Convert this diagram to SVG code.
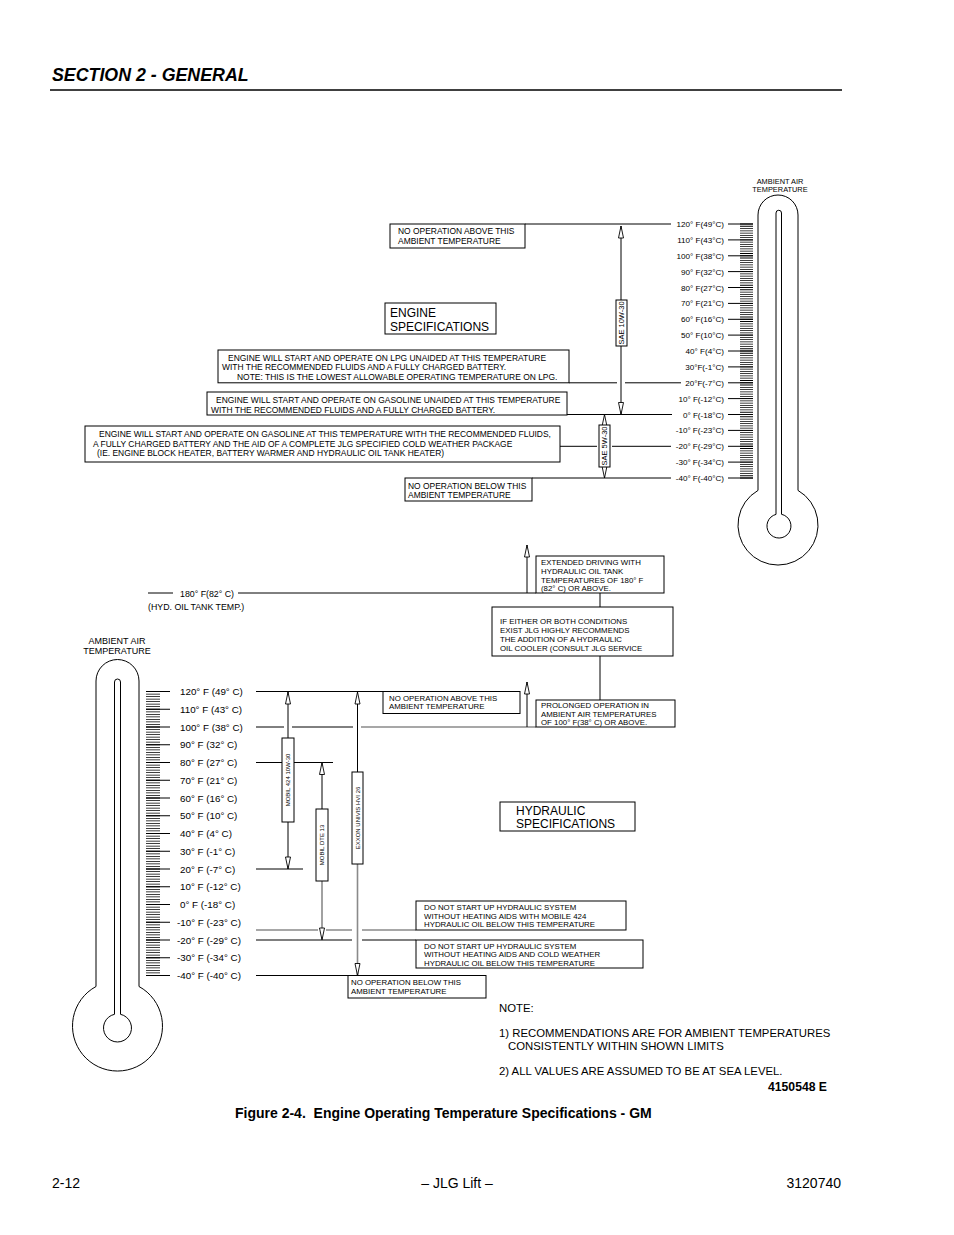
<svg xmlns="http://www.w3.org/2000/svg" width="954" height="1235" viewBox="0 0 954 1235">
<style>
text{font-family:"Liberation Sans",Arial,Helvetica,sans-serif;fill:#000}
.hd{font-size:17.8px;font-weight:bold;font-style:italic}
.ft{font-size:14px}
.cap{font-size:14px;font-weight:bold}
.t8{font-size:8.45px}
.t7{font-size:7.85px}
.lt{font-size:8.1px}
.lb{font-size:9.8px}
.am{font-size:7.4px}
.am2{font-size:9px}
.sp{font-size:12px}
.nt{font-size:11.35px}
.ot{font-size:8.8px}
.rt{font-size:7.5px}
.rb{font-size:6px}
.bx{fill:#fff;stroke:#000;stroke-width:1}
.ln{stroke:#000;stroke-width:1;fill:none}
.gr{stroke:#8a8a8a;stroke-width:1.6;fill:none}
.th{fill:none;stroke:#000;stroke-width:1}
</style>
<defs>
<marker id="ah" viewBox="-1 -1 14 8" refX="12" refY="3" markerWidth="14" markerHeight="8" markerUnits="userSpaceOnUse" orient="auto">
<path d="M0,0.5 L12,3 L0,5.5 Z" fill="#fff" stroke="#000" stroke-width="0.9"/>
</marker>
</defs>

<g id="header">
<text class="hd" x="52" y="81">SECTION 2 - GENERAL</text>
<line x1="50" y1="90" x2="842" y2="90" stroke="#000" stroke-width="1.3"/>
</g>

<!-- Engine thermometer -->
<g id="engine-thermometer">
<text class="am" x="780" y="184" text-anchor="middle">AMBIENT AIR</text>
<text class="am" x="780" y="192" text-anchor="middle">TEMPERATURE</text>
<path class="th" d="M758,490.4 V215 A20,20 0 0 1 798,215 V490.4 A40,40 0 1 1 758,490.4 Z"/>
<path class="th" d="M776,514.4 V213 A2.75,2.75 0 0 1 781.5,213 V514.3 A12,12 0 1 1 776,514.4 Z"/>
<line x1="746.5" y1="223.6" x2="746.5" y2="478.4" stroke="#000" stroke-width="13" stroke-dasharray="0.8 1.4679"/>
<path class="ln" d="M728,224H753M728,239.9H753M728,255.8H753M728,271.6H753M728,287.5H753M728,303.4H753M728,319.3H753M728,335.1H753M728,351H753M728,366.9H753M728,382.8H753M728,398.6H753M728,414.5H753M728,430.4H753M728,446.3H753M728,462.1H753M728,478H753"/>
<g class="lt" text-anchor="end">
<text x="724" y="227">120° F(49°C)</text>
<text x="724" y="242.9">110° F(43°C)</text>
<text x="724" y="258.8">100° F(38°C)</text>
<text x="724" y="274.6">90° F(32°C)</text>
<text x="724" y="290.5">80° F(27°C)</text>
<text x="724" y="306.4">70° F(21°C)</text>
<text x="724" y="322.3">60° F(16°C)</text>
<text x="724" y="338.1">50° F(10°C)</text>
<text x="724" y="354">40° F(4°C)</text>
<text x="724" y="369.9">30°F(-1°C)</text>
<text x="724" y="385.8">20°F(-7°C)</text>
<text x="724" y="401.6">10° F(-12°C)</text>
<text x="724" y="417.5">0° F(-18°C)</text>
<text x="724" y="433.4">-10° F(-23°C)</text>
<text x="724" y="449.3">-20° F(-29°C)</text>
<text x="724" y="465.1">-30° F(-34°C)</text>
<text x="724" y="481">-40° F(-40°C)</text>
</g>
</g>

<!-- Engine connectors -->
<g id="engine-connectors">
<path class="ln" d="M525,224H671M569,382.8H617M625,382.8H681M567,414.5H672M560,446.3H597M612,446.3H671M532,478H671"/>
<line class="ln" x1="621" y1="300" x2="621" y2="226" marker-end="url(#ah)"/>
<line class="ln" x1="621" y1="346" x2="621" y2="414.5" marker-end="url(#ah)"/>
<line class="ln" x1="604.5" y1="425" x2="604.5" y2="414.5" marker-end="url(#ah)"/>
<line class="ln" x1="604.5" y1="467" x2="604.5" y2="478" marker-end="url(#ah)"/>
</g>

<g id="sae-10w30">
<rect class="bx" x="616" y="300" width="11" height="46"/>
<text class="rt" transform="translate(624.3,323) rotate(-90)" text-anchor="middle">SAE 10W-30</text>
</g>
<g id="sae-5w30">
<rect class="bx" x="599" y="425" width="11" height="42"/>
<text class="rt" transform="translate(607.3,446) rotate(-90)" text-anchor="middle">SAE 5W-30</text>
</g>

<g id="no-op-above-engine">
<rect class="bx" x="390" y="224" width="135" height="24"/>
<text class="t8" x="398" y="234">NO OPERATION ABOVE THIS</text>
<text class="t8" x="398" y="243.5">AMBIENT TEMPERATURE</text>
</g>

<g id="engine-specs">
<rect class="bx" x="385" y="303" width="111" height="31"/>
<text class="sp" x="390" y="317">ENGINE</text>
<text class="sp" x="390" y="331">SPECIFICATIONS</text>
</g>

<g id="lpg-box">
<rect class="bx" x="218" y="350" width="351" height="32.8"/>
<text class="t8" x="228" y="361">ENGINE WILL START AND OPERATE ON LPG UNAIDED AT THIS TEMPERATURE</text>
<text class="t8" x="222" y="370">WITH THE RECOMMENDED FLUIDS AND A FULLY CHARGED BATTERY.</text>
<text class="t8" x="237" y="380">NOTE: THIS IS THE LOWEST ALLOWABLE OPERATING TEMPERATURE ON LPG.</text>
</g>

<g id="gasoline-box">
<rect class="bx" x="207" y="392" width="360" height="23"/>
<text class="t8" x="216" y="403">ENGINE WILL START AND OPERATE ON GASOLINE UNAIDED AT THIS TEMPERATURE</text>
<text class="t8" x="211" y="412.5">WITH THE RECOMMENDED FLUIDS AND A FULLY CHARGED BATTERY.</text>
</g>

<g id="cold-weather-box">
<rect class="bx" x="85" y="426" width="475" height="36"/>
<text class="t8" x="99" y="437">ENGINE WILL START AND OPERATE ON GASOLINE AT THIS TEMPERATURE WITH THE RECOMMENDED FLUIDS,</text>
<text class="t8" x="93" y="447">A FULLY CHARGED BATTERY AND THE AID OF A COMPLETE JLG SPECIFIED COLD WEATHER PACKAGE</text>
<text class="t8" x="97" y="456">(IE. ENGINE BLOCK HEATER, BATTERY WARMER AND HYDRAULIC OIL TANK HEATER)</text>
</g>

<g id="no-op-below-engine">
<rect class="bx" x="405" y="478" width="127" height="23"/>
<text class="t8" x="408" y="489">NO OPERATION BELOW THIS</text>
<text class="t8" x="408" y="498">AMBIENT TEMPERATURE</text>
</g>

<!-- Hydraulic thermometer -->
<g id="hydraulic-thermometer">
<text class="am2" x="117" y="644" text-anchor="middle">AMBIENT AIR</text>
<text class="am2" x="117" y="654" text-anchor="middle">TEMPERATURE</text>
<path class="th" d="M96,986.5 V681 A21.5,21.5 0 0 1 139,681 V986.5 A45,45 0 1 1 96,986.5 Z"/>
<path class="th" d="M114.5,1014.3 V682 A3,3 0 0 1 120.5,682 V1014.3 A14,14 0 1 1 114.5,1014.3 Z"/>
<line x1="153" y1="691.1" x2="153" y2="975.9" stroke="#000" stroke-width="14" stroke-dasharray="0.8 1.7357"/>
<path class="ln" d="M146,691.5H170M146,709.25H170M146,727H170M146,744.75H170M146,762.5H170M146,780.25H170M146,798H170M146,815.75H170M146,833.5H170M146,851.25H170M146,869H170M146,886.75H170M146,904.5H170M146,922.25H170M146,940H170M146,957.75H170M146,975.5H170"/>
<g class="lb">
<text x="180" y="695">120° F (49° C)</text>
<text x="180" y="712.8">110° F (43° C)</text>
<text x="180" y="730.5">100° F (38° C)</text>
<text x="180" y="748.3">90° F (32° C)</text>
<text x="180" y="766">80° F (27° C)</text>
<text x="180" y="783.8">70° F (21° C)</text>
<text x="180" y="801.5">60° F (16° C)</text>
<text x="180" y="819.3">50° F (10° C)</text>
<text x="180" y="837">40° F (4° C)</text>
<text x="180" y="854.8">30° F (-1° C)</text>
<text x="180" y="872.5">20° F (-7° C)</text>
<text x="180" y="890.3">10° F (-12° C)</text>
<text x="180" y="908">0° F (-18° C)</text>
<text x="177" y="925.8">-10° F (-23° C)</text>
<text x="177" y="943.5">-20° F (-29° C)</text>
<text x="177" y="961.3">-30° F (-34° C)</text>
<text x="177" y="979">-40° F (-40° C)</text>
</g>
</g>

<g id="oil-tank-label">
<text class="ot" x="180" y="596.5">180° F(82° C)</text>
<text class="ot" x="148" y="609.5">(HYD. OIL TANK TEMP.)</text>
</g>

<!-- Hydraulic connectors -->
<g id="hydraulic-connectors">
<path class="ln" d="M148,593H173M238,593H536"/>
<line class="ln" x1="527" y1="593" x2="527" y2="545" marker-end="url(#ah)"/>
<path class="ln" d="M600,593V607M600,656V700"/>
<path class="ln" d="M256,691.5H383M256,727H284M292,727H353M256,762.5H333M256,869H303M256,940H352M362,940H416M256,975.5H348"/>
<path class="gr" d="M361,727H536M256,930H318M326,930H352M362,930H416"/>
<line class="ln" x1="527" y1="727" x2="527" y2="682" marker-end="url(#ah)"/>
<line class="ln" x1="288" y1="738" x2="288" y2="692" marker-end="url(#ah)"/>
<line class="ln" x1="288" y1="822" x2="288" y2="869" marker-end="url(#ah)"/>
<line class="ln" x1="322" y1="809" x2="322" y2="762.5" marker-end="url(#ah)"/>
<line class="gr" x1="322" y1="881" x2="322" y2="940" marker-end="url(#ah)"/>
<line class="ln" x1="357.5" y1="772" x2="357.5" y2="692" marker-end="url(#ah)"/>
<line class="gr" x1="357.5" y1="864" x2="357.5" y2="975.5" marker-end="url(#ah)"/>
</g>

<g id="mobil-424">
<rect class="bx" x="282" y="738" width="12" height="84"/>
<text class="rb" transform="translate(290.2,780) rotate(-90)" text-anchor="middle">MOBIL 424 10W-30</text>
</g>
<g id="mobil-dte-13">
<rect class="bx" x="316" y="809" width="12" height="72"/>
<text class="rb" transform="translate(324.2,845) rotate(-90)" text-anchor="middle">MOBIL DTE 13</text>
</g>
<g id="exxon-univis">
<rect class="bx" x="352" y="772" width="11" height="92"/>
<text class="rb" transform="translate(359.7,818) rotate(-90)" text-anchor="middle">EXXON UNIVIS HVI 26</text>
</g>

<g id="extended-driving">
<rect class="bx" x="536" y="556" width="128" height="37"/>
<text class="t7" x="541" y="565">EXTENDED DRIVING WITH</text>
<text class="t7" x="541" y="574">HYDRAULIC OIL TANK</text>
<text class="t7" x="541" y="583">TEMPERATURES OF 180° F</text>
<text class="t7" x="541" y="591">(82° C) OR ABOVE.</text>
</g>

<g id="oil-cooler">
<rect class="bx" x="492" y="607" width="181" height="49"/>
<text class="t7" x="500" y="624">IF EITHER OR BOTH CONDITIONS</text>
<text class="t7" x="500" y="633">EXIST JLG HIGHLY RECOMMENDS</text>
<text class="t7" x="500" y="642">THE ADDITION OF A HYDRAULIC</text>
<text class="t7" x="500" y="650.5">OIL COOLER (CONSULT JLG SERVICE</text>
</g>

<g id="no-op-above-hyd">
<rect class="bx" x="383" y="691.5" width="137" height="22"/>
<text class="t7" x="389" y="700.5">NO OPERATION ABOVE THIS</text>
<text class="t7" x="389" y="709">AMBIENT TEMPERATURE</text>
</g>

<g id="prolonged-operation">
<rect class="bx" x="536" y="700" width="139" height="27"/>
<text class="t7" x="541" y="707.5">PROLONGED OPERATION IN</text>
<text class="t7" x="541" y="716.5">AMBIENT AIR TEMPERATURES</text>
<text class="t7" x="541" y="725">OF 100° F(38° C) OR ABOVE.</text>
</g>

<g id="hydraulic-specs">
<rect class="bx" x="500" y="802" width="135" height="29"/>
<text class="sp" x="516" y="814.5">HYDRAULIC</text>
<text class="sp" x="516" y="827.5">SPECIFICATIONS</text>
</g>

<g id="no-start-mobil">
<rect class="bx" x="416" y="901" width="210" height="29"/>
<text class="t7" x="424" y="910">DO NOT START UP HYDRAULIC SYSTEM</text>
<text class="t7" x="424" y="918.5">WITHOUT HEATING AIDS WITH MOBILE 424</text>
<text class="t7" x="424" y="927">HYDRAULIC OIL BELOW THIS TEMPERATURE</text>
</g>

<g id="no-start-cold">
<rect class="bx" x="416" y="940" width="227" height="28"/>
<text class="t7" x="424" y="948.5">DO NOT START UP HYDRAULIC SYSTEM</text>
<text class="t7" x="424" y="957">WITHOUT HEATING AIDS AND COLD WEATHER</text>
<text class="t7" x="424" y="965.5">HYDRAULIC OIL BELOW THIS TEMPERATURE</text>
</g>

<g id="no-op-below-hyd">
<rect class="bx" x="348" y="975.5" width="138" height="22.5"/>
<text class="t7" x="351" y="985">NO OPERATION BELOW THIS</text>
<text class="t7" x="351" y="994">AMBIENT TEMPERATURE</text>
</g>

<g id="notes">
<text class="nt" x="499" y="1012">NOTE:</text>
<text class="nt" x="499" y="1037">1) RECOMMENDATIONS ARE FOR AMBIENT TEMPERATURES</text>
<text class="nt" x="508" y="1050">CONSISTENTLY WITHIN SHOWN LIMITS</text>
<text class="nt" x="499" y="1075">2) ALL VALUES ARE ASSUMED TO BE AT SEA LEVEL.</text>
<text x="827" y="1091" text-anchor="end" style="font-size:12.2px;font-weight:bold">4150548 E</text>
</g>

<g id="caption">
<text class="cap" x="235" y="1118" xml:space="preserve">Figure 2-4.  Engine Operating Temperature Specifications - GM</text>
</g>

<g id="footer">
<text class="ft" x="52" y="1188">2-12</text>
<text class="ft" x="457" y="1188" text-anchor="middle">– JLG Lift –</text>
<text class="ft" x="841" y="1188" text-anchor="end">3120740</text>
</g>
</svg>
